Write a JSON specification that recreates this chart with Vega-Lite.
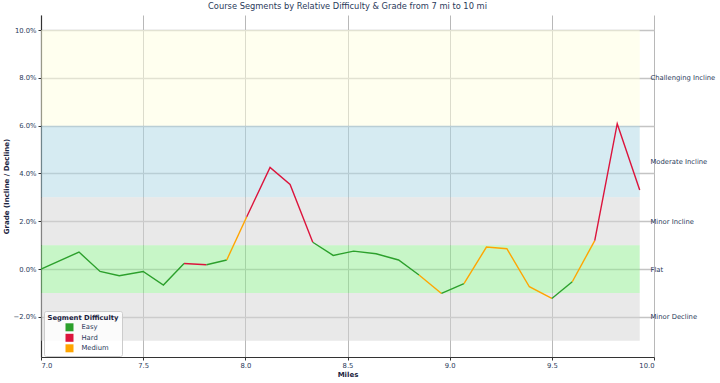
{
  "$schema": "https://vega.github.io/schema/vega-lite/v6.json",
  "width": 613,
  "height": 342,
  "autosize": {"type": "none"},
  "padding": {"left": 41, "top": 15, "right": 66, "bottom": 26},
  "background": "white",
  "config": {"view": {"stroke": null}, "font": "DejaVu Sans"},
  "title": {"text": "Course Segments by Relative Difficulty & Grade from 7 mi to 10 mi", "fontSize": 8.3, "fontWeight": "normal", "color": "#2a3a5a", "font": "DejaVu Sans", "offset": 5},
  "datasets": {
    "bands": [
      {"zone": "Challenging Incline", "start": 7.0, "end": 9.93, "lo": 6, "hi": 10},
      {"zone": "Moderate Incline", "start": 7.0, "end": 9.93, "lo": 3, "hi": 6},
      {"zone": "Minor Incline", "start": 7.0, "end": 9.93, "lo": 1, "hi": 3},
      {"zone": "Flat", "start": 7.0, "end": 9.93, "lo": -1, "hi": 1},
      {"zone": "Minor Decline", "start": 7.0, "end": 9.93, "lo": -3, "hi": -1}
    ],
    "pts": [
      {"seg": 1, "difficulty": "Easy", "mile": 7.0, "grade": 0.0},
      {"seg": 1, "difficulty": "Easy", "mile": 7.186, "grade": 0.71},
      {"seg": 1, "difficulty": "Easy", "mile": 7.289, "grade": -0.1},
      {"seg": 1, "difficulty": "Easy", "mile": 7.383, "grade": -0.28},
      {"seg": 1, "difficulty": "Easy", "mile": 7.5, "grade": -0.1},
      {"seg": 1, "difficulty": "Easy", "mile": 7.599, "grade": -0.67},
      {"seg": 1, "difficulty": "Easy", "mile": 7.7, "grade": 0.23},
      {"seg": 2, "difficulty": "Hard", "mile": 7.7, "grade": 0.23},
      {"seg": 2, "difficulty": "Hard", "mile": 7.81, "grade": 0.18},
      {"seg": 3, "difficulty": "Easy", "mile": 7.81, "grade": 0.18},
      {"seg": 3, "difficulty": "Easy", "mile": 7.909, "grade": 0.38},
      {"seg": 4, "difficulty": "Medium", "mile": 7.909, "grade": 0.38},
      {"seg": 4, "difficulty": "Medium", "mile": 8.007, "grade": 2.19},
      {"seg": 5, "difficulty": "Hard", "mile": 8.007, "grade": 2.19},
      {"seg": 5, "difficulty": "Hard", "mile": 8.121, "grade": 4.25},
      {"seg": 5, "difficulty": "Hard", "mile": 8.219, "grade": 3.54},
      {"seg": 5, "difficulty": "Hard", "mile": 8.33, "grade": 1.12},
      {"seg": 6, "difficulty": "Easy", "mile": 8.33, "grade": 1.12},
      {"seg": 6, "difficulty": "Easy", "mile": 8.43, "grade": 0.57},
      {"seg": 6, "difficulty": "Easy", "mile": 8.53, "grade": 0.75},
      {"seg": 6, "difficulty": "Easy", "mile": 8.64, "grade": 0.64},
      {"seg": 6, "difficulty": "Easy", "mile": 8.75, "grade": 0.38},
      {"seg": 6, "difficulty": "Easy", "mile": 8.85, "grade": -0.25},
      {"seg": 7, "difficulty": "Medium", "mile": 8.85, "grade": -0.25},
      {"seg": 7, "difficulty": "Medium", "mile": 8.96, "grade": -1.02},
      {"seg": 8, "difficulty": "Easy", "mile": 8.96, "grade": -1.02},
      {"seg": 8, "difficulty": "Easy", "mile": 9.07, "grade": -0.61},
      {"seg": 9, "difficulty": "Medium", "mile": 9.07, "grade": -0.61},
      {"seg": 9, "difficulty": "Medium", "mile": 9.18, "grade": 0.92},
      {"seg": 9, "difficulty": "Medium", "mile": 9.28, "grade": 0.85},
      {"seg": 9, "difficulty": "Medium", "mile": 9.39, "grade": -0.74},
      {"seg": 9, "difficulty": "Medium", "mile": 9.5, "grade": -1.23},
      {"seg": 10, "difficulty": "Easy", "mile": 9.5, "grade": -1.23},
      {"seg": 10, "difficulty": "Easy", "mile": 9.6, "grade": -0.53},
      {"seg": 11, "difficulty": "Medium", "mile": 9.6, "grade": -0.53},
      {"seg": 11, "difficulty": "Medium", "mile": 9.71, "grade": 1.19},
      {"seg": 12, "difficulty": "Hard", "mile": 9.71, "grade": 1.19},
      {"seg": 12, "difficulty": "Hard", "mile": 9.82, "grade": 6.08},
      {"seg": 12, "difficulty": "Hard", "mile": 9.93, "grade": 3.31}
    ]
  },
  "layer": [
    {
      "data": {"name": "bands"},
      "mark": {"type": "rect", "fillOpacity": 0.5},
      "encoding": {
        "x": {"field": "start", "type": "quantitative", "scale": {"domain": [7, 10], "nice": false, "zero": false},
          "axis": {"values": [7, 7.5, 8, 8.5, 9, 9.5, 10], "format": ".1f", "title": "Miles", "titleFontSize": 7, "titleFontWeight": "bold", "titleColor": "#1a2340", "titlePadding": 2, "labelFontSize": 6.8, "labelColor": "#2a3a5a", "labelPadding": 2, "domainColor": "#333333", "domainWidth": 1.2, "tickColor": "#333333", "tickSize": 3, "grid": true, "gridColor": "#b8b8b8", "gridWidth": 1}},
        "x2": {"field": "end"},
        "y": {"field": "lo", "type": "quantitative", "scale": {"domain": [-3.68, 10.63], "nice": false, "zero": false},
          "axis": {"orient": "left", "values": [-2, 0, 2, 4, 6, 8, 10], "labelExpr": "format(datum.value, '.1f') + '%'", "title": "Grade (Incline / Decline)", "titleFontSize": 7, "titleFontWeight": "bold", "titleColor": "#1a2340", "titlePadding": 4, "labelFontSize": 6.8, "labelColor": "#2a3a5a", "labelPadding": 2, "domainColor": "#333333", "domainWidth": 1.2, "tickColor": "#333333", "tickSize": 3, "grid": true, "gridColor": "#c4c4c4", "gridWidth": 1.3}},
        "y2": {"field": "hi"},
        "fill": {"field": "zone", "type": "nominal", "legend": null,
          "scale": {"domain": ["Challenging Incline", "Moderate Incline", "Minor Incline", "Flat", "Minor Decline"], "range": ["#ffffe0", "#add8e6", "#d3d3d3", "#90ee90", "#d3d3d3"]}}
      }
    },
    {
      "data": {"name": "pts"},
      "mark": {"type": "line", "strokeWidth": 1.4},
      "encoding": {
        "x": {"field": "mile", "type": "quantitative"},
        "y": {"field": "grade", "type": "quantitative",
          "axis": {"orient": "right", "values": [8, 4.5, 2, 0, -2], "labelExpr": "datum.value == 8 ? 'Challenging Incline' : datum.value == 4.5 ? 'Moderate Incline' : datum.value == 2 ? 'Minor Incline' : datum.value == 0 ? 'Flat' : 'Minor Decline'", "title": null, "domain": false, "ticks": false, "grid": false, "labelPadding": -4, "labelFontSize": 6.8, "labelColor": "#2a3a5a"}},
        "detail": {"field": "seg", "type": "nominal"},
        "color": {"field": "difficulty", "type": "nominal",
          "scale": {"domain": ["Easy", "Hard", "Medium"], "range": ["#2ca02c", "#dc143c", "#ffa500"]},
          "legend": {"title": "Segment Difficulty", "orient": "none", "legendX": 3, "legendY": 296, "fillColor": "rgba(255,255,255,0.8)", "strokeColor": "#cccccc", "padding": 3.5, "cornerRadius": 2, "titleFontSize": 6.8, "titleFontWeight": "bold", "titleColor": "#1a2340", "labelFontSize": 6.8, "labelColor": "#2a3a5a", "symbolType": "square", "symbolSize": 64, "symbolStrokeWidth": 0, "symbolOpacity": 1, "symbolOffset": 18, "labelOffset": 8, "rowPadding": 2.5, "titlePadding": 2,
            "encode": {"symbols": {"update": {"fill": {"scale": "color", "field": "value"}, "fillOpacity": {"value": 1}}}}}}
      }
    }
  ],
  "resolve": {"axis": {"y": "independent"}}
}
